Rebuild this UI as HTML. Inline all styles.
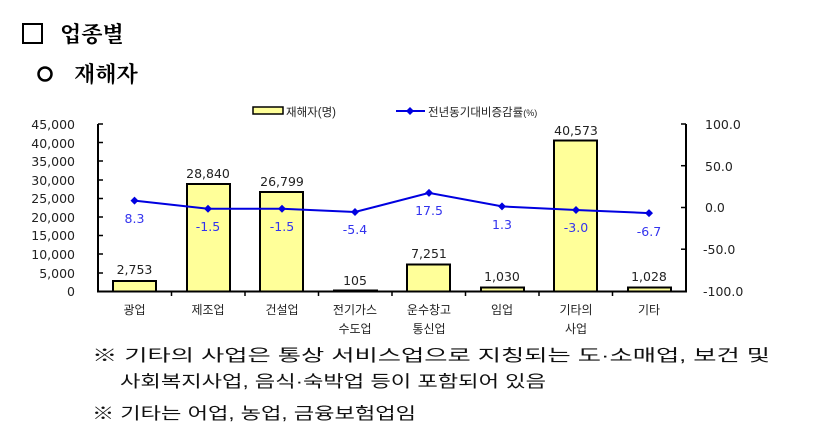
<!DOCTYPE html>
<html><head><meta charset="utf-8"><style>
body{margin:0;background:#fff;width:817px;height:447px;overflow:hidden}
svg{display:block}
.t{font-family:"Liberation Sans","Noto Sans CJK KR",sans-serif}
.d{font-family:"DejaVu Sans","Noto Sans CJK KR",sans-serif}
.s{font-family:"Liberation Serif","Noto Serif CJK KR",serif}
</style></head><body>
<svg width="817" height="447" viewBox="0 0 817 447" xmlns="http://www.w3.org/2000/svg">
<rect x="23" y="24" width="19" height="19" fill="none" stroke="#000" stroke-width="2"/>
<text x="60" y="42" class="s" font-size="22" font-weight="bold">업종별</text>
<circle cx="45" cy="74" r="6.5" fill="none" stroke="#000" stroke-width="2.5"/>
<text x="74" y="82" class="s" font-size="22" font-weight="bold">재해자</text>
<rect x="253" y="107" width="30" height="7" fill="#ffff99" stroke="#000" stroke-width="1.5"/>
<text x="286" y="116" class="t" font-size="11.5" fill="#222">재해자(명)</text>
<line x1="396" y1="111" x2="425" y2="111" stroke="#0000e0" stroke-width="2"/>
<polygon points="410,107 414,111 410,115 406,111" fill="#0000e0"/>
<text x="428" y="116" class="t" font-size="11.5" fill="#222">전년동기대비증감률<tspan font-size="9">(%)</tspan></text>
<g stroke="#000" stroke-width="2" fill="none">
<line x1="98" y1="124" x2="98" y2="292"/>
<line x1="686" y1="124" x2="686" y2="292"/>
<line x1="97" y1="291.5" x2="687" y2="291.5"/>
</g>
<g stroke="#000" stroke-width="1.5">
<line x1="98" y1="124" x2="103" y2="124"/><line x1="98" y1="142.5" x2="103" y2="142.5"/><line x1="98" y1="161" x2="103" y2="161"/><line x1="98" y1="180" x2="103" y2="180"/><line x1="98" y1="198.5" x2="103" y2="198.5"/><line x1="98" y1="217" x2="103" y2="217"/><line x1="98" y1="235.5" x2="103" y2="235.5"/><line x1="98" y1="254" x2="103" y2="254"/><line x1="98" y1="273" x2="103" y2="273"/>
<line x1="681" y1="124" x2="686" y2="124"/><line x1="681" y1="165.7" x2="686" y2="165.7"/><line x1="681" y1="207.5" x2="686" y2="207.5"/><line x1="681" y1="249.2" x2="686" y2="249.2"/>
<line x1="171.5" y1="291" x2="171.5" y2="296"/><line x1="245" y1="291" x2="245" y2="296"/><line x1="318.5" y1="291" x2="318.5" y2="296"/><line x1="392" y1="291" x2="392" y2="296"/><line x1="465.5" y1="291" x2="465.5" y2="296"/><line x1="539" y1="291" x2="539" y2="296"/><line x1="612.5" y1="291" x2="612.5" y2="296"/>
</g>
<g class="d" font-size="12.5" fill="#222" text-anchor="end">
<text x="75" y="129">45,000</text><text x="75" y="148">40,000</text><text x="75" y="166">35,000</text><text x="75" y="185">30,000</text><text x="75" y="203">25,000</text><text x="75" y="222">20,000</text><text x="75" y="240">15,000</text><text x="75" y="259">10,000</text><text x="75" y="278">5,000</text><text x="75" y="296">0</text>
</g>
<g class="d" font-size="12.5" fill="#222">
<text x="705" y="129">100.0</text><text x="705" y="171">50.0</text><text x="705" y="212">0.0</text><text x="703" y="254">-50.0</text><text x="703" y="296">-100.0</text>
</g>
<g fill="#ffff99" stroke="#000" stroke-width="2">
<rect x="113" y="281" width="43" height="10.5"/>
<rect x="187" y="184" width="43" height="107.5"/>
<rect x="260" y="192" width="43" height="99.5"/>
<rect x="334" y="290.5" width="43" height="1"/>
<rect x="407" y="264.5" width="43" height="27"/>
<rect x="481" y="287.5" width="43" height="4"/>
<rect x="554" y="140.5" width="43" height="151"/>
<rect x="628" y="287.5" width="43" height="4"/>
</g>
<g class="d" font-size="12.5" fill="#222" text-anchor="middle">
<text x="134.5" y="274">2,753</text><text x="208" y="178">28,840</text><text x="282" y="186">26,799</text><text x="355" y="285">105</text><text x="429" y="258">7,251</text><text x="502" y="281">1,030</text><text x="576" y="135">40,573</text><text x="649" y="281">1,028</text>
</g>
<polyline points="134.5,200.6 208,208.8 282,208.8 355,212 429,192.9 502,206.4 576,210 649,213.1" fill="none" stroke="#0000e0" stroke-width="2"/>
<g fill="#0000e0">
<polygon points="134.5,196.6 138.5,200.6 134.5,204.6 130.5,200.6"/><polygon points="208,204.8 212,208.8 208,212.8 204,208.8"/><polygon points="282,204.8 286,208.8 282,212.8 278,208.8"/><polygon points="355,208 359,212 355,216 351,212"/><polygon points="429,188.9 433,192.9 429,196.9 425,192.9"/><polygon points="502,202.4 506,206.4 502,210.4 498,206.4"/><polygon points="576,206 580,210 576,214 572,210"/><polygon points="649,209.1 653,213.1 649,217.1 645,213.1"/>
</g>
<g class="d" font-size="12.5" fill="#3333ee" text-anchor="middle">
<text x="134.5" y="223">8.3</text><text x="208" y="231">-1.5</text><text x="282" y="231">-1.5</text><text x="355" y="234">-5.4</text><text x="429" y="215">17.5</text><text x="502" y="229">1.3</text><text x="576" y="232">-3.0</text><text x="649" y="236">-6.7</text>
</g>
<g class="t" font-size="12" fill="#222" text-anchor="middle">
<text x="134.5" y="314">광업</text><text x="208" y="314">제조업</text><text x="282" y="314">건설업</text><text x="355" y="314">전기가스</text><text x="355" y="333">수도업</text><text x="429" y="314">운수창고</text><text x="429" y="333">통신업</text><text x="502" y="314">임업</text><text x="576" y="314">기타의</text><text x="576" y="333">사업</text><text x="649" y="314">기타</text>
</g>
<g class="t" font-size="16.5" fill="#111">
<text x="92" y="361" textLength="678" lengthAdjust="spacingAndGlyphs">※ 기타의 사업은 통상 서비스업으로 지칭되는 도·소매업, 보건 및</text>
<text x="120" y="387" textLength="426" lengthAdjust="spacingAndGlyphs">사회복지사업, 음식·숙박업 등이 포함되어 있음</text>
<text x="92" y="419" textLength="324" lengthAdjust="spacingAndGlyphs">※ 기타는 어업, 농업, 금융보험업임</text>
</g>
</svg>
</body></html>
